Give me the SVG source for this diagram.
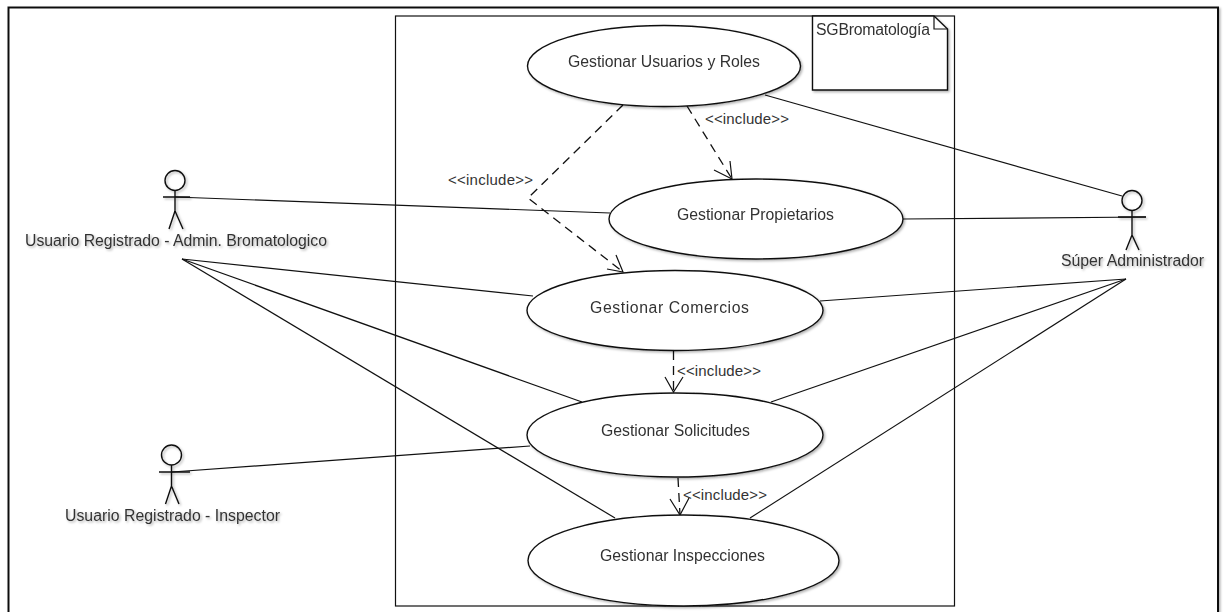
<svg xmlns="http://www.w3.org/2000/svg" width="1224" height="612" viewBox="0 0 1224 612">
<style>
.l{fill:none;stroke:#111;stroke-width:1.200}
.a{fill:none;stroke:#111;stroke-width:1.400}
.d{fill:none;stroke:#111;stroke-width:1.300;stroke-dasharray:9 6}
.e{fill:#fff;stroke:#111;stroke-width:1.400}
.n{filter:url(#s)}
text{font-family:"Liberation Sans",Arial,sans-serif;font-size:15.800px;fill:#333}
.i{font-size:15px}
</style>
<defs>
<filter id="s" x="-10%" y="-10%" width="120%" height="120%"><feDropShadow dx="1.500" dy="1.500" stdDeviation="1.200" flood-color="#000" flood-opacity=".3"/></filter>
</defs>
<rect width="1224" height="612" fill="#fff"/>
<g class="n">
<rect id="frame" x="8.500" y="7.500" width="1209.500" height="620" fill="#fff" stroke="#111" stroke-width="2"/>
</g>
<g id="system"><rect x="395.500" y="16" width="559" height="590" fill="none" stroke="#111" stroke-width="1.200"/></g>
<g id="connectors">
<path class="l" d="M765 95L1122 196"/>
<path class="l" d="M175 197L610 213"/>
<path class="l" d="M903 219L1146 217"/>
<path class="l" d="M182 259L533 296"/>
<path class="l" d="M182 259L582 402"/>
<path class="l" d="M182 259L615 518"/>
<path class="l" d="M172 472L530 446"/>
<path class="l" d="M1126 279L820 301"/>
<path class="l" d="M1126 279L771 402"/>
<path class="l" d="M1126 279L750 518"/>
<path class="d" d="M687 106L732 179"/><path class="l" d="M714 170L732 179L730 161"/>
<path class="d" d="M623 105L528 198L623 272"/><path class="l" d="M607 269L623 272L616 255"/>
<path class="d" d="M673.500 351V392"/><path class="l" d="M665 377L673.500 392L683 377"/>
<path class="d" d="M678 478L680 515"/><path class="l" d="M670 499L680 515L689 498"/>
</g>
<g id="note" class="n"><path d="M812.500 16H934L947.500 29V90H812.500Z" fill="#fff" stroke="#111" stroke-width="1.400"/><path class="l" d="M934 16V29H947.500"/><text x="816" y="35" textLength="114">SGBromatología</text></g>
<g id="uc1" class="n"><ellipse class="e" cx="664" cy="66" rx="136.500" ry="40.500"/><text x="568" y="67" textLength="192">Gestionar Usuarios y Roles</text></g>
<g id="uc2" class="n"><ellipse class="e" cx="756" cy="219" rx="147" ry="40"/><text x="677" y="220" textLength="157">Gestionar Propietarios</text></g>
<g id="uc3" class="n"><ellipse class="e" cx="675" cy="310.500" rx="148" ry="40"/><text x="590" y="313" textLength="159">Gestionar Comercios</text></g>
<g id="uc4" class="n"><ellipse class="e" cx="675" cy="435" rx="148" ry="42"/><text x="601" y="436" textLength="149">Gestionar Solicitudes</text></g>
<g id="uc5" class="n"><ellipse class="e" cx="683.500" cy="560.500" rx="155.500" ry="45.500"/><text x="600" y="561" textLength="165">Gestionar Inspecciones</text></g>
<g id="actor1" class="n"><circle class="a" cx="175" cy="180.500" r="10"/><path class="a" d="M175 190.500V211M163 197H190M175 211L169 229M175 211L183 229"/><text x="25" y="246" textLength="302">Usuario Registrado - Admin. Bromatologico</text></g>
<g id="actor2" class="n"><circle class="a" cx="171.500" cy="455" r="10"/><path class="a" d="M171.500 465V486M159 472H190M171.500 486L165.500 504M171.500 486L179 504"/><text x="65" y="521" textLength="215">Usuario Registrado - Inspector</text></g>
<g id="actor3" class="n"><circle class="a" cx="1132" cy="200.500" r="10"/><path class="a" d="M1132 210.500V235M1118 217H1146M1132 235L1126 250M1132 235L1139 250"/><text x="1061" y="266" textLength="143">Súper Administrador</text></g>
<g id="labels">
<text class="i" x="705" y="124" textLength="84">&lt;&lt;include&gt;&gt;</text>
<text class="i" x="448" y="185" textLength="85">&lt;&lt;include&gt;&gt;</text>
<text class="i" x="677" y="376" textLength="84">&lt;&lt;include&gt;&gt;</text>
<text class="i" x="683" y="500" textLength="84">&lt;&lt;include&gt;&gt;</text>
</g>
</svg>
